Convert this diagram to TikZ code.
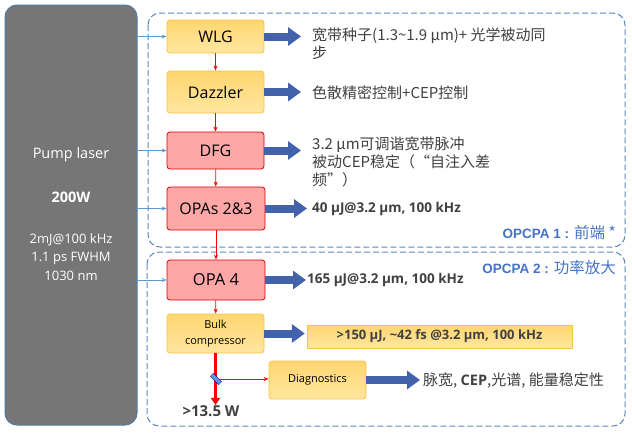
\documentclass[tikz,border=0pt]{standalone}
\usepackage{fontspec}
\setmainfont{Open Sans}
\newfontfamily\cjk{Noto Sans CJK SC}
\newfontfamily\tagfont{Liberation Sans}
\usetikzlibrary{arrows.meta,positioning}
\definecolor{pumpgray}{HTML}{767676}
\definecolor{pumpedge}{HTML}{4F7AA6}
\definecolor{framecol}{HTML}{5A87B5}
\definecolor{tagblue}{HTML}{4472C4}
\definecolor{fatblue}{HTML}{4262AC}
\definecolor{thinblue}{HTML}{5B9BD5}
\definecolor{orangetop}{HTML}{FFD670}
\definecolor{orangebot}{HTML}{FFE6A0}
\definecolor{orangeedge}{HTML}{F6C244}
\definecolor{pinkfill}{HTML}{FFA6A6}
\definecolor{txtgray}{HTML}{404040}
\begin{document}
\begin{tikzpicture}[x=1pt,y=-1pt,
    frame/.style={draw=framecol, line width=1pt, dash pattern=on 6pt off 3pt, rounded corners=12pt},
    stage/.style={rounded corners=3pt, minimum width=97pt, inner sep=2pt, align=center, line width=0.8pt},
    yellowstage/.style={stage, draw=orangeedge, top color=orangetop, bottom color=orangebot},
    pinkstage/.style={stage, draw=red!85!black, fill=pinkfill},
    outtext/.style={anchor=west, inner sep=0pt, text=txtgray, align=left},
    fatarrow/.style={draw=fatblue, line width=8pt, -{Triangle[width=18pt,length=13pt]}},
    pumparrow/.style={draw=thinblue, line width=0.8pt, -{Stealth[length=5pt,width=4pt]}},
    redarrow/.style={draw=red, line width=0.8pt, -{Stealth[length=5pt,width=4pt]}}]
    \useasboundingbox (0,0) rectangle (632,432);

    % pump laser
    \node[draw=pumpedge, fill=pumpgray, rounded corners=12pt, line width=1pt,
          minimum width=132pt, minimum height=420pt] (pump) at (71,215) {};
    \node[text=white, font=\fontsize{14.5}{17}\selectfont] (pumpname) at (71,155) {Pump laser};
    \node[text=white, font=\fontsize{14.5}{17}\selectfont\bfseries] (pumppower) at (71,197) {200W};
    \node[text=white, align=center, font=\fontsize{13}{18.5}\selectfont] (pumpspec) at (71,257)
        {2mJ@100 kHz\\1.1 ps FWHM\\1030 nm};

    % the two stages
    \draw[frame] (148,13) rectangle (625,247);
    \draw[frame] (147,252) rectangle (625,426);

    \node[yellowstage, minimum height=33pt, font=\fontsize{16}{18}\selectfont] (wlg) at (215.5,36.5) {WLG};
    \node[yellowstage, minimum height=42pt, font=\fontsize{16}{18}\selectfont] (dazzler) at (215.5,92) {Dazzler};
    \node[pinkstage, minimum height=37pt, font=\fontsize{16}{18}\selectfont] (dfg) at (215.5,150.5) {DFG};
    \node[pinkstage, minimum height=43pt, minimum width=98pt, font=\fontsize{16}{18}\selectfont] (opas) at (216,208.5) {OPAs 2\&3};
    \node[pinkstage, minimum height=40pt, minimum width=98pt, font=\fontsize{16.5}{18}\selectfont] (opa4) at (216,280) {OPA 4};
    \node[yellowstage, minimum height=39pt, font=\fontsize{11}{16}\selectfont] (bulk) at (215.5,333.5) {Bulk\\compressor};
    \node[yellowstage, minimum height=38pt, font=\fontsize{11}{13}\selectfont] (diag) at (317.5,380) {Diagnostics};

    \foreach \a/\b in {wlg/dazzler,dazzler/dfg,dfg/opas,opas/opa4,opa4/bulk}
        \draw[redarrow] (\a) -- (\b);
    \foreach \b in {wlg,dfg,opas,opa4}
        \draw[pumparrow] (pump.east |- \b) -- (\b);

    % outputs
    \node[outtext, font=\cjk\fontsize{15}{18}\selectfont] (seed) at (312,44)
        {宽带种子(1.3\textasciitilde 1.9 μm)+ 光学被动同\\步};
    \node[outtext, font=\cjk\fontsize{15}{18}\selectfont] (disp) at (312,93) {色散精密控制+CEP控制};
    \node[outtext, font=\cjk\fontsize{15}{18}\selectfont] (tune) at (312,162)
        {3.2 μm可调谐宽带脉冲\\被动CEP稳定（“自注入差\\频”）};
    \node[outtext, font=\fontsize{13.5}{15}\selectfont\bfseries] (out1) at (312,209) {40 μJ@3.2 μm, 100 kHz};
    \node[outtext, font=\fontsize{13.5}{15}\selectfont\bfseries] (out4) at (307,280) {165 μJ@3.2 μm, 100 kHz};
    \node[draw=orangeedge, top color=orangetop, bottom color=orangebot, text=txtgray,
          minimum width=265pt, minimum height=23pt, inner sep=0pt,
          font=\fontsize{13}{15}\selectfont\bfseries] (pulse) at (439.5,336.5)
        {>150 μJ, \textasciitilde 42 fs @3.2 μm, 100 kHz};
    \node[outtext, font=\cjk\fontsize{15}{17}\selectfont] (diagout) at (423,381)
        {脉宽, {\fontspec{Open Sans}\bfseries\fontsize{14.5}{16}\selectfont CEP},光谱, 能量稳定性};

    \node[anchor=east, inner sep=0pt, text=tagblue] (tag1) at (616,233)
        {\fontsize{13.5}{15}\selectfont\tagfont\bfseries OPCPA 1 : {\cjk\mdseries\fontsize{15.5}{15}\selectfont 前端 *}};
    \node[anchor=east, inner sep=0pt, text=tagblue] (tag2) at (616,268)
        {\fontsize{13.5}{15}\selectfont\tagfont\bfseries OPCPA 2 : {\cjk\mdseries\fontsize{15.5}{15}\selectfont 功率放大}};

    \draw[fatarrow] (wlg.east) -- ([xshift=-11pt]wlg.east -| seed.west);
    \draw[fatarrow] (dazzler.east) -- ([xshift=-11pt]dazzler.east -| disp.west);
    \draw[fatarrow] (dfg.east) -- ([xshift=-11pt]dfg.east -| tune.west);
    \draw[fatarrow] (opas.east) -- ([xshift=-5pt]opas.east -| out1.west);
    \draw[fatarrow] (opa4.east) -- ([xshift=-1pt]opa4.east -| out4.west);
    \draw[fatarrow] (bulk.east) -- ([xshift=-2pt]bulk.east -| pulse.west);
    \draw[fatarrow] (diag.east) -- ([xshift=-3pt]diag.east -| diagout.west);

    % output beam and pick-off
    \node[text=txtgray, font=\fontsize{15}{17}\selectfont\bfseries] (power) at (211,411) {>13.5 W};
    \draw[draw=red, line width=3pt, -{Triangle[width=9pt,length=7pt]}] (bulk.south) -- ([yshift=-3pt]bulk.south |- power.north);
    \node[draw=blue!50!black, fill=thinblue, minimum width=12pt, minimum height=4pt, inner sep=0pt,
          rotate=-45, line width=0.3pt] (bs) at (216,379) {};
    \draw[redarrow] ([xshift=3pt]bs.center) -- (bs.center -| diag.west);
\end{tikzpicture}
\end{document}
